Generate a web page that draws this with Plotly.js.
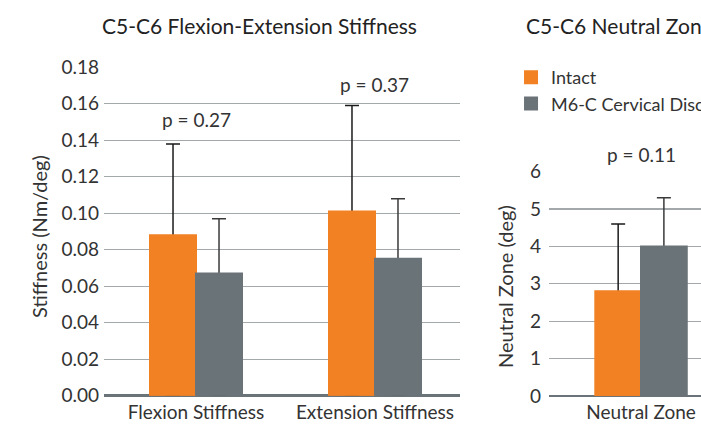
<!DOCTYPE html>
<html>
<head>
<meta charset="utf-8">
<script src="https://cdn.plot.ly/plotly-3.0.1.min.js"></script>
<style>html,body{margin:0;padding:0;background:#fff;overflow:hidden;}#chart{width:701px;height:424px;}</style>
</head>
<body>
<div id="chart"></div>
<script>
// ---- data ----
const stiffCategories = ['Flexion Stiffness', 'Extension Stiffness'];
const stiffIntact = [0.088, 0.101];
const stiffIntactErr = [0.050, 0.058];
const stiffM6 = [0.067, 0.075];
const stiffM6Err = [0.030, 0.033];
const stiffPValues = ['p = 0.27', 'p = 0.37'];

const nzCategories = ['Neutral Zone'];
const nzIntact = [2.8];
const nzIntactErr = [1.8];
const nzM6 = [4.0];
const nzM6Err = [1.3];
const nzPValues = ['p = 0.11'];

const seriesNames = ['Intact', 'M6-C Cervical Disc'];
const chartTitles = ['C5-C6 Flexion-Extension Stiffness', 'C5-C6 Neutral Zone'];
const axisTitles = ['Stiffness (Nm/deg)', 'Neutral Zone (deg)'];

// ---- style ----
const ORANGE = '#f28124';
const GRAY = '#6a7378';
const FONT = 'Lato, "Noto Sans", sans-serif';
const TXT = '#333333';
const BW = 0.257;

function errTrace(x, y, err, xa, ya, off, col) {
  return {
    type: 'bar', x: x, y: y, xaxis: xa, yaxis: ya,
    width: BW, offset: off, showlegend: false, hoverinfo: 'skip',
    marker: {color: 'rgba(0,0,0,0)'},
    error_y: {type: 'data', symmetric: false, array: err, arrayminus: y,
              color: col, thickness: 1.5, width: 7}
  };
}
function barTrace(x, y, xa, ya, off, col, name, legend) {
  return {
    type: 'bar', x: x, y: y, xaxis: xa, yaxis: ya, name: name,
    width: BW, offset: off, showlegend: legend, hoverinfo: 'skip',
    marker: {color: col, line: {color: col, width: 2}}
  };
}

const data = [
  errTrace(stiffCategories, stiffIntact, stiffIntactErr, 'x', 'y', -BW, '#1a1a1a'),
  errTrace(stiffCategories, stiffM6, stiffM6Err, 'x', 'y', 0, '#3a3a3a'),
  errTrace(nzCategories, nzIntact, nzIntactErr, 'x2', 'y2', -BW, '#1a1a1a'),
  errTrace(nzCategories, nzM6, nzM6Err, 'x2', 'y2', 0, '#3a3a3a'),
  barTrace(stiffCategories, stiffIntact, 'x', 'y', -BW, ORANGE, seriesNames[0], true),
  barTrace(stiffCategories, stiffM6, 'x', 'y', 0, GRAY, seriesNames[1], true),
  barTrace(nzCategories, nzIntact, 'x2', 'y2', -BW, ORANGE, seriesNames[0], false),
  barTrace(nzCategories, nzM6, 'x2', 'y2', 0, GRAY, seriesNames[1], false)
];

const yCommon = {
  showline: false, ticks: '', gridcolor: '#a3a8ab', gridwidth: 1.2,
  zeroline: true, zerolinecolor: '#6a7378', zerolinewidth: 2.5,
  tickfont: {family: FONT, size: 19, color: TXT}, fixedrange: true
};
const xCommon = {
  type: 'category', showline: false, ticks: '', showgrid: false,
  tickfont: {family: FONT, size: 19, color: TXT}, fixedrange: true,
  ticklabelstandoff: 3
};

const layout = {
  width: 701, height: 424,
  margin: {l: 0, r: 0, t: 0, b: 0, autoexpand: false},
  paper_bgcolor: '#ffffff', plot_bgcolor: 'rgba(0,0,0,0)',
  barmode: 'overlay',
  font: {family: FONT, color: TXT},
  showlegend: true,
  legend: {x: 0.729, y: 0.861, xanchor: 'left', yanchor: 'top',
           bgcolor: 'rgba(0,0,0,0)', borderwidth: 0, tracegroupgap: 0,
           font: {family: FONT, size: 18, color: TXT}, traceorder: 'normal'},
  xaxis: Object.assign({}, xCommon, {domain: [0.1484, 0.6562], anchor: 'y', range: [-0.514, 1.475]}),
  yaxis: Object.assign({}, yCommon, {domain: [0.0667, 0.8413], anchor: 'x', range: [0, 0.18],
           dtick: 0.02, tickformat: '.2f', ticklabelstandoff: 4}),
  xaxis2: Object.assign({}, xCommon, {domain: [0.7832, 1], anchor: 'y2', range: [-0.517, 0.337]}),
  yaxis2: Object.assign({}, yCommon, {domain: [0.066, 0.5953], anchor: 'x2', range: [0, 6],
           dtick: 1, ticklabelstandoff: 7}),
  annotations: [
    {text: chartTitles[0], xref: 'paper', yref: 'paper', x: 259/701, y: 1 - 25/424,
     xanchor: 'center', yanchor: 'middle', showarrow: false,
     font: {family: FONT, size: 21, color: '#222222'}},
    {text: chartTitles[1], xref: 'paper', yref: 'paper', x: 524/701, y: 1 - 25/424,
     xanchor: 'left', yanchor: 'middle', showarrow: false,
     font: {family: FONT, size: 21, color: '#222222'}},
    {text: axisTitles[0], xref: 'paper', yref: 'paper', x: 39/701, y: 1 - 237/424,
     xanchor: 'center', yanchor: 'middle', textangle: -90, showarrow: false,
     font: {family: FONT, size: 20, color: TXT}},
    {text: axisTitles[1], xref: 'paper', yref: 'paper', x: 505/701, y: 1 - 287/424,
     xanchor: 'center', yanchor: 'middle', textangle: -90, showarrow: false,
     font: {family: FONT, size: 20, color: TXT}},
    {text: stiffPValues[0], xref: 'x', yref: 'paper', x: stiffCategories[0], y: 1 - 119/424,
     xanchor: 'center', yanchor: 'middle', showarrow: false,
     font: {family: FONT, size: 19, color: TXT}},
    {text: stiffPValues[1], xref: 'x', yref: 'paper', x: stiffCategories[1], y: 1 - 84/424,
     xanchor: 'center', yanchor: 'middle', showarrow: false,
     font: {family: FONT, size: 19, color: TXT}},
    {text: nzPValues[0], xref: 'x2', yref: 'paper', x: nzCategories[0], y: 1 - 154/424,
     xanchor: 'center', yanchor: 'middle', showarrow: false,
     font: {family: FONT, size: 19, color: TXT}}
  ]
};

Plotly.newPlot('chart', data, layout, {staticPlot: true, displayModeBar: false});
</script>
</body>
</html>
